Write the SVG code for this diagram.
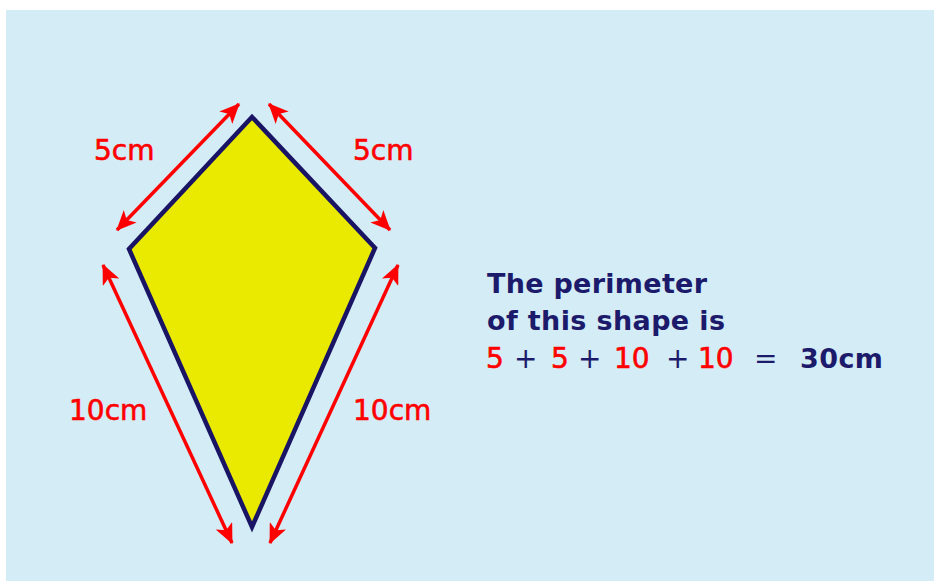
<svg xmlns="http://www.w3.org/2000/svg" width="934" height="581" viewBox="0 0 934 581">
  <defs>
    <marker id="ah" viewBox="0 0 20 18" refX="19" refY="9" markerWidth="20" markerHeight="18" markerUnits="userSpaceOnUse" orient="auto-start-reverse">
      <path d="M0,0 L20,9 L0,18 L5,9 Z" fill="#ff0000"/>
    </marker>
    <style>
      .arrow { stroke: #ff0000; stroke-width: 3.5; fill: none; marker-start: url(#ah); marker-end: url(#ah); }
      .lbl { font-family: "DejaVu Sans", Verdana, sans-serif; font-size: 28px; fill: #ff0000; stroke: #ff0000; stroke-width: 0.6; }
      .txt { font-family: "DejaVu Sans", Verdana, sans-serif; font-size: 27px; fill: #1c1a6a; font-weight: bold; }
      .red { fill: #ff0000; stroke: #ff0000; stroke-width: 0.6; font-weight: normal; font-size: 28px; }
      .op { fill: #1c1a6a; font-weight: normal; font-size: 28px; }
    </style>
  </defs>
  <rect x="0" y="0" width="934" height="581" fill="#ffffff"/>
  <rect x="6" y="10" width="928" height="571" fill="#d4ecf6"/>

  <g id="kite">
    <polygon points="252,117 129,249 252,527 375,248" fill="#eaea00" stroke="#1a1464" stroke-width="4.5" stroke-linejoin="miter"/>
  </g>

  <g id="connectors">
    <line class="arrow" x1="117" y1="230" x2="239" y2="104"/>
    <line class="arrow" x1="269" y1="104" x2="390" y2="230"/>
    <line class="arrow" x1="103" y1="265" x2="232" y2="543"/>
    <line class="arrow" x1="398" y1="265" x2="270" y2="543"/>
  </g>

  <g id="labels">
    <text class="lbl" x="94" y="160">5cm</text>
    <text class="lbl" x="353" y="160">5cm</text>
    <text class="lbl" x="69" y="420">10cm</text>
    <text class="lbl" x="353" y="420">10cm</text>
  </g>

  <g id="explanation">
    <text class="txt" x="487" y="293" textLength="220">The perimeter</text>
    <text class="txt" x="487" y="330" textLength="238">of this shape is</text>
    <text class="txt" y="368"><tspan class="red" x="486">5</tspan><tspan class="op" x="514">+</tspan><tspan class="red" x="551">5</tspan><tspan class="op" x="578">+</tspan><tspan class="red" x="614">10</tspan><tspan class="op" x="666">+</tspan><tspan class="red" x="698">10</tspan><tspan class="op" x="754">=</tspan><tspan x="800" textLength="83">30cm</tspan></text>
  </g>
</svg>
